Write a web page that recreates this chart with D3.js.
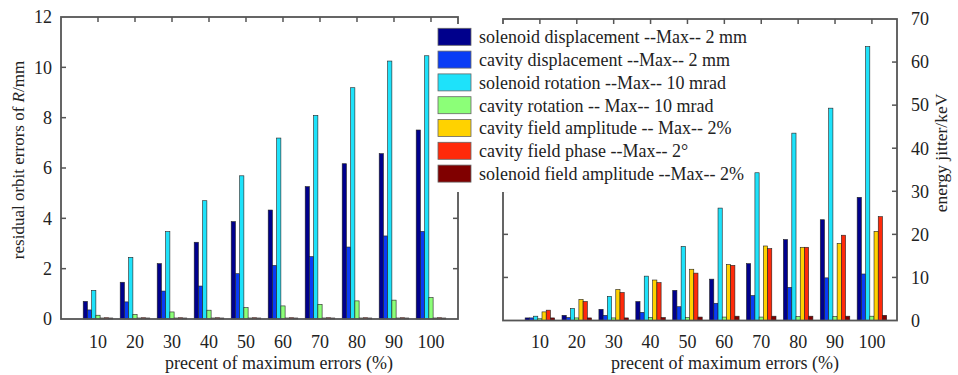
<!DOCTYPE html>
<html>
<head>
<meta charset="utf-8">
<script src="https://cdn.jsdelivr.net/npm/d3@7/dist/d3.min.js"></script>
<style>
  html, body { margin: 0; padding: 0; background: #fff; }
  svg { display: block; }
</style>
</head>
<body>
<svg id="chart" width="958" height="375"></svg>
<script>
// Error levels (percent of maximum error)
const categories = [10, 20, 30, 40, 50, 60, 70, 80, 90, 100];

const seriesNames = [
  "solenoid displacement --Max-- 2 mm",
  "cavity displacement --Max-- 2 mm",
  "solenoid rotation --Max-- 10 mrad",
  "cavity rotation -- Max-- 10 mrad",
  "cavity field amplitude -- Max-- 2%",
  "cavity field phase --Max-- 2°",
  "solenoid field amplitude --Max-- 2%"
];
const seriesColors = ["#00008c", "#0a3cf5", "#1ee2fa", "#8cff78", "#ffd200", "#ff2a0a", "#800000"];

// Residual orbit errors of R (mm)
const orbitSolDisp   = [0.70, 1.46, 2.20, 3.05, 3.87, 4.33, 5.26, 6.17, 6.57, 7.51];
const orbitCavDisp   = [0.36, 0.68, 1.11, 1.31, 1.80, 2.13, 2.48, 2.86, 3.30, 3.48];
const orbitSolRot    = [1.14, 2.45, 3.47, 4.70, 5.69, 7.19, 8.09, 9.19, 10.25, 10.46];
const orbitCavRot    = [0.15, 0.18, 0.28, 0.35, 0.45, 0.52, 0.58, 0.72, 0.75, 0.85];
const orbitCavAmp    = [0.04, 0.04, 0.04, 0.04, 0.04, 0.04, 0.04, 0.04, 0.04, 0.04];
const orbitCavPhase  = [0.05, 0.05, 0.05, 0.05, 0.05, 0.05, 0.05, 0.05, 0.05, 0.05];
const orbitSolAmp    = [0.04, 0.04, 0.04, 0.04, 0.04, 0.04, 0.04, 0.04, 0.04, 0.04];

// Energy jitter (keV)
const jitterSolDisp  = [0.6, 1.2, 2.6, 4.4, 7.0, 9.6, 13.2, 18.8, 23.4, 28.6];
const jitterCavDisp  = [0.6, 0.7, 1.2, 1.9, 3.2, 4.0, 5.8, 7.7, 9.9, 10.8];
const jitterSolRot   = [1.0, 2.8, 5.6, 10.3, 17.2, 26.1, 34.3, 43.5, 49.3, 63.6];
const jitterCavRot   = [0.4, 0.6, 0.6, 0.7, 0.7, 0.8, 0.8, 0.9, 0.9, 1.0];
const jitterCavAmp   = [2.0, 4.9, 7.2, 9.4, 11.9, 13.0, 17.3, 17.0, 17.9, 20.7];
const jitterCavPhase = [2.4, 4.4, 6.5, 8.8, 11.0, 12.8, 16.7, 17.0, 19.8, 24.1];
const jitterSolAmp   = [0.6, 0.6, 0.6, 0.7, 0.8, 1.0, 1.0, 1.0, 1.0, 1.2];

const orbitTicks  = [0, 2, 4, 6, 8, 10, 12];
const jitterTicks = [0, 10, 20, 30, 40, 50, 60, 70];

const orbitSeries  = [orbitSolDisp, orbitCavDisp, orbitSolRot, orbitCavRot, orbitCavAmp, orbitCavPhase, orbitSolAmp];
const jitterSeries = [jitterSolDisp, jitterCavDisp, jitterSolRot, jitterCavRot, jitterCavAmp, jitterCavPhase, jitterSolAmp];

const FONT = "'Liberation Serif', 'Times New Roman', 'DejaVu Serif', serif";
const svg = d3.select("#chart")
  .attr("font-family", FONT)
  .style("font-family", FONT);
const spineColor = "#555";
const textColor = "#222";
const tickLen = 5;

function label(sel, size = 18) {
  return sel.attr("font-family", FONT).attr("fill", textColor).attr("font-size", size);
}

function drawPanel(opts) {
  const { left, right, top, bottom, xMax, yMax, series, yTicks, tickSide, xTitleX } = opts;
  const g = svg.append("g");
  const x = d3.scaleLinear().domain([0, xMax]).range([left, right]);
  const y = d3.scaleLinear().domain([0, yMax]).range([bottom, top]);
  const unit = x(1) - x(0);
  const groupW = unit * 0.8;
  const inner = d3.scaleBand().domain(d3.range(series.length)).range([-groupW / 2, groupW / 2]);

  // bars
  series.forEach((vals, si) => {
    g.append("g").selectAll("rect")
      .data(vals)
      .join("rect")
      .attr("x", (d, i) => x(i + 1) + inner(si))
      .attr("width", inner.bandwidth())
      .attr("y", d => y(d))
      .attr("height", d => y(0) - y(d))
      .attr("fill", seriesColors[si])
      .attr("stroke", "#222")
      .attr("stroke-width", 0.6);
  });

  // box
  g.append("rect")
    .attr("x", left).attr("y", top)
    .attr("width", right - left).attr("height", bottom - top)
    .attr("fill", "none").attr("stroke", spineColor).attr("stroke-width", 1.8);

  // top ticks at category positions
  g.append("g").selectAll("line").data(categories).join("line")
    .attr("x1", (d, i) => x(i + 1)).attr("x2", (d, i) => x(i + 1))
    .attr("y1", top).attr("y2", top + tickLen)
    .attr("stroke", spineColor).attr("stroke-width", 1.5);

  // y ticks on both vertical spines (inward)
  const innerTicks = yTicks.filter(t => t > 0 && t < yMax);
  g.append("g").selectAll("line").data(innerTicks).join("line")
    .attr("x1", left).attr("x2", left + tickLen)
    .attr("y1", d => y(d)).attr("y2", d => y(d))
    .attr("stroke", spineColor).attr("stroke-width", 1.5);
  g.append("g").selectAll("line").data(innerTicks).join("line")
    .attr("x1", right).attr("x2", right - tickLen)
    .attr("y1", d => y(d)).attr("y2", d => y(d))
    .attr("stroke", spineColor).attr("stroke-width", 1.5);

  // y tick labels
  label(g.append("g").selectAll("text").data(yTicks).join("text"))
    .attr("x", tickSide === "left" ? left - 9 : right + 14)
    .attr("y", d => y(d))
    .attr("dy", "0.35em")
    .attr("text-anchor", tickSide === "left" ? "end" : "start")
    .text(d => d);

  // x tick labels
  label(g.append("g").selectAll("text").data(categories).join("text"))
    .attr("x", (d, i) => x(i + 1))
    .attr("y", 348)
    .attr("text-anchor", "middle")
    .text(d => d);

  // x title
  label(g.append("text"))
    .attr("x", xTitleX).attr("y", 369)
    .attr("text-anchor", "middle")
    .text("precent of maximum errors (%)");

  return { x, y };
}

drawPanel({
  left: 61, right: 458, top: 17, bottom: 319,
  xMax: 10.73, yMax: 12, series: orbitSeries, yTicks: orbitTicks,
  tickSide: "left", xTitleX: 279
});

drawPanel({
  left: 503, right: 897, top: 19, bottom: 320.5,
  xMax: 10.68, yMax: 70, series: jitterSeries, yTicks: jitterTicks,
  tickSide: "right", xTitleX: 725
});

// y titles
const yl = label(svg.append("text"), 17)
  .attr("transform", "translate(24,160) rotate(-90)")
  .attr("text-anchor", "middle");
yl.append("tspan").text("residual orbit errors of ");
yl.append("tspan").attr("font-style", "italic").text("R");
yl.append("tspan").text("/mm");

label(svg.append("text"), 17.5)
  .attr("transform", "translate(947,153) rotate(-90)")
  .attr("text-anchor", "middle")
  .text("energy jitter/keV");

// legend
const legend = svg.append("g").attr("transform", "translate(432,24)");
legend.append("rect")
  .attr("x", 0).attr("y", 0).attr("width", 318).attr("height", 168)
  .attr("fill", "#fff");
const rowH = 22.8;
const rows = legend.selectAll("g.row").data(seriesNames).join("g")
  .attr("class", "row")
  .attr("transform", (d, i) => `translate(0,${4.3 + i * rowH})`);
rows.append("rect")
  .attr("x", 6).attr("y", 0).attr("width", 33).attr("height", 17)
  .attr("fill", (d, i) => seriesColors[i])
  .attr("stroke", "#666").attr("stroke-width", 0.8);
label(rows.append("text"))
  .attr("x", 47).attr("y", 8.5).attr("dy", "0.35em")
  .text(d => d);
</script>
</body>
</html>
